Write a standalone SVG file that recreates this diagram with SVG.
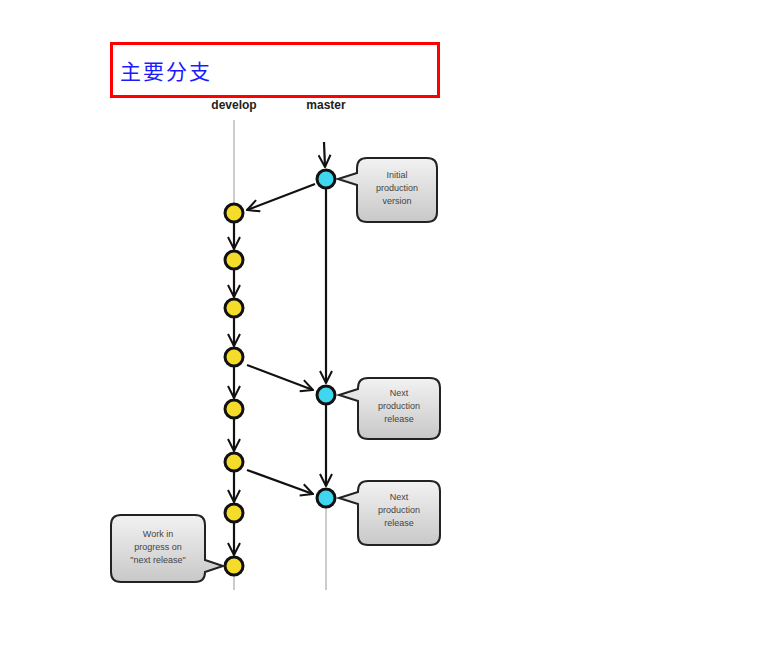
<svg xmlns="http://www.w3.org/2000/svg" width="771" height="660" viewBox="0 0 771 660">
<style>
.lbl{font-family:"Liberation Sans",Arial,sans-serif;font-size:12px;font-weight:bold;fill:#222;text-anchor:middle}
.ct{font-family:"Liberation Sans",Arial,sans-serif;font-size:9px;fill:#444;text-anchor:middle}
.y{fill:#f5dc2a;stroke:#111;stroke-width:3}
.b{fill:#3fd7f0;stroke:#111;stroke-width:3}
.c{stroke:#111;stroke-width:2.2;fill:none}
.call{fill:url(#g);stroke:#222;stroke-width:2}
</style>
<defs>
<linearGradient id="g" x1="0" y1="0" x2="0" y2="1">
<stop offset="0" stop-color="#f2f2f2"/><stop offset="1" stop-color="#c8c8c8"/>
</linearGradient>
<marker id="a" viewBox="0 0 14 14" refX="13" refY="7" markerWidth="14" markerHeight="14" markerUnits="userSpaceOnUse" orient="auto">
<path d="M1,1 L13,7 L1,13" fill="none" stroke="#111" stroke-width="2"/>
</marker>
</defs>
<rect width="771" height="660" fill="#fff"/>
<g id="title">
<rect x="111.5" y="43.5" width="327" height="53" fill="#fff" stroke="#f00" stroke-width="3"/>
<text x="120" y="79" font-family="'Noto Sans CJK SC',sans-serif" font-size="21" letter-spacing="2" fill="#1a1aff">主要分支</text>
</g>
<g id="labels">
<text class="lbl" x="234" y="109">develop</text>
<text class="lbl" x="326" y="109">master</text>
</g>
<g id="connectors">
<line x1="234" y1="120" x2="234" y2="590" stroke="#ccc" stroke-width="2"/>
<line x1="326" y1="508" x2="326" y2="590" stroke="#ccc" stroke-width="2"/>
<line class="c" x1="324" y1="142" x2="325" y2="167" marker-end="url(#a)"/>
<line class="c" x1="315" y1="184" x2="247" y2="210" marker-end="url(#a)"/>
<line class="c" x1="326" y1="189" x2="326" y2="383" marker-end="url(#a)"/>
<line class="c" x1="326" y1="405" x2="326" y2="486" marker-end="url(#a)"/>
<line class="c" x1="247" y1="365" x2="313" y2="390" marker-end="url(#a)"/>
<line class="c" x1="247" y1="470" x2="313" y2="494" marker-end="url(#a)"/>
<line class="c" x1="234" y1="223" x2="234" y2="249" marker-end="url(#a)"/>
<line class="c" x1="234" y1="270" x2="234" y2="297" marker-end="url(#a)"/>
<line class="c" x1="234" y1="318" x2="234" y2="346" marker-end="url(#a)"/>
<line class="c" x1="234" y1="367" x2="234" y2="398" marker-end="url(#a)"/>
<line class="c" x1="234" y1="419" x2="234" y2="451" marker-end="url(#a)"/>
<line class="c" x1="234" y1="472" x2="234" y2="502" marker-end="url(#a)"/>
<line class="c" x1="234" y1="523" x2="234" y2="555" marker-end="url(#a)"/>
</g>
<g id="m1"><circle class="b" cx="326" cy="179" r="9"/></g>
<g id="m2"><circle class="b" cx="326" cy="395" r="9"/></g>
<g id="m3"><circle class="b" cx="326" cy="498" r="9"/></g>
<g id="d1"><circle class="y" cx="234" cy="213" r="9"/></g>
<g id="d2"><circle class="y" cx="234" cy="260" r="9"/></g>
<g id="d3"><circle class="y" cx="234" cy="308" r="9"/></g>
<g id="d4"><circle class="y" cx="234" cy="357" r="9"/></g>
<g id="d5"><circle class="y" cx="234" cy="409" r="9"/></g>
<g id="d6"><circle class="y" cx="234" cy="462" r="9"/></g>
<g id="d7"><circle class="y" cx="234" cy="513" r="9"/></g>
<g id="d8"><circle class="y" cx="234" cy="566" r="9"/></g>
<g id="c1">
<path class="call" d="M367,158 H427 Q437,158 437,168 V212 Q437,222 427,222 H367 Q357,222 357,212 V185 L338,179 L357,173 V168 Q357,158 367,158 Z"/>
<text class="ct" x="397" y="178">Initial</text>
<text class="ct" x="397" y="191">production</text>
<text class="ct" x="397" y="204">version</text>
</g>
<g id="c2">
<path class="call" d="M368,378 H430 Q440,378 440,388 V429 Q440,439 430,439 H368 Q358,439 358,429 V401 L339,395 L358,389 V388 Q358,378 368,378 Z"/>
<text class="ct" x="399" y="396">Next</text>
<text class="ct" x="399" y="409">production</text>
<text class="ct" x="399" y="422">release</text>
</g>
<g id="c3">
<path class="call" d="M368,481 H430 Q440,481 440,491 V535 Q440,545 430,545 H368 Q358,545 358,535 V504 L339,498 L358,492 V491 Q358,481 368,481 Z"/>
<text class="ct" x="399" y="500">Next</text>
<text class="ct" x="399" y="513">production</text>
<text class="ct" x="399" y="526">release</text>
</g>
<g id="c4">
<path class="call" d="M121,515 H195 Q205,515 205,525 V560 L223,566 L205,572 Q205,582 195,582 H121 Q111,582 111,572 V525 Q111,515 121,515 Z"/>
<text class="ct" x="158" y="537">Work in</text>
<text class="ct" x="158" y="550">progress on</text>
<text class="ct" x="158" y="563">"next release"</text>
</g>
</svg>
